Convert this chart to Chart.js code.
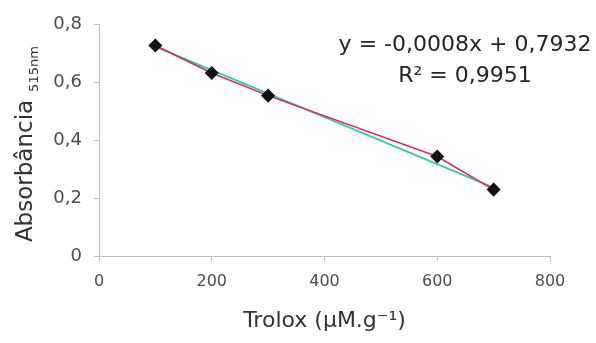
<!DOCTYPE html>
<html><head><meta charset="utf-8">
<script src="https://cdn.jsdelivr.net/npm/chart.js@4/dist/chart.umd.min.js"></script>
<style>html,body{margin:0;padding:0;background:#fff;}#wrap{width:596px;height:343px;position:relative;}</style>
</head><body><div id="wrap"><canvas id="c" width="596" height="343"></canvas></div>
<script>
const troloxX = [100, 200, 300, 600, 700];
const absorbance = [0.726, 0.631, 0.553, 0.343, 0.229];
const trendX = [100, 700];
const trendY = [0.722, 0.236];
const yTicks = [0, 0.2, 0.4, 0.6, 0.8];
const xTicks = [0, 200, 400, 600, 800];
const equationLines = ['y = -0,0008x + 0,7932', 'R² = 0,9951'];

const FONT = '"DejaVu Sans", "Liberation Sans", Arial, sans-serif';
const fmt = v => String(Math.round(v*10)/10).replace('.', ',');

const yTitlePlugin = {
  id: 'ytitle',
  afterDraw(chart) {
    const ctx = chart.ctx;
    ctx.save();
    ctx.translate(26, 171);
    ctx.rotate(-Math.PI/2);
    ctx.fillStyle = '#333';
    ctx.textBaseline = 'middle';
    ctx.font = '23px ' + FONT;
    ctx.textAlign = 'center';
    ctx.fillText('Absorbância', 0, 0);
    const w = ctx.measureText('Absorbância').width;
    ctx.font = '13px ' + FONT;
    ctx.textAlign = 'left';
    ctx.fillText('515nm', w/2 + 8, 9);
    ctx.restore();
    ctx.save();
    ctx.fillStyle = '#262626';
    ctx.font = '22px ' + FONT;
    ctx.textAlign = 'center';
    ctx.textBaseline = 'middle';
    ctx.fillText(equationLines[0], 465, 45);
    ctx.fillText(equationLines[1], 465, 76);
    ctx.restore();
  }
};

new Chart(document.getElementById('c'), {
  type: 'scatter',
  data: {
    datasets: [
      {
        label: 'Trend',
        data: trendX.map((x,i)=>({x, y: trendY[i]})),
        showLine: true,
        borderColor: '#2fcfae',
        borderWidth: 2,
        pointRadius: 0,
        order: 1
      },
      {
        label: 'Absorbância',
        data: troloxX.map((x,i)=>({x, y: absorbance[i]})),
        showLine: true,
        borderColor: '#e3245c',
        borderWidth: 1.5,
        pointStyle: 'rectRot',
        pointRadius: 6,
        pointBackgroundColor: '#111',
        pointBorderColor: '#111',
        order: 0
      }
    ]
  },
  options: {
    responsive: false,
    animation: false,
    layout: { padding: { top: 24, right: 46, left: 0, bottom: 0 } },
    plugins: { legend: { display: false }, tooltip: { enabled: false } },
    scales: {
      x: {
        type: 'linear', min: 0, max: 800,
        afterBuildTicks: s => { s.ticks = xTicks.map(v=>({value:v})); },
        ticks: { color: '#4d4d4d', font: { size: 16, family: FONT }, padding: 11 },
        grid: { drawOnChartArea: false, drawTicks: true, tickLength: 5, color: '#bfbfbf' },
        border: { color: '#bfbfbf', width: 1 },
        title: { display: true, text: 'Trolox (µM.g⁻¹)', color: '#333', font: { size: 22, family: FONT }, padding: { top: 2, bottom: 9 } },
        afterFit: s => { s.height = 87; }
      },
      y: {
        type: 'linear', min: 0, max: 0.8,
        afterBuildTicks: s => { s.ticks = yTicks.map(v=>({value:v})); },
        ticks: { color: '#4d4d4d', font: { size: 18, family: FONT }, padding: 12, callback: v => fmt(v) },
        grid: { drawOnChartArea: false, drawTicks: true, tickLength: 5, color: '#bfbfbf' },
        border: { color: '#bfbfbf', width: 1 },
        afterFit: s => { s.width = 99; }
      }
    }
  },
  plugins: [yTitlePlugin]
});
</script></body></html>
